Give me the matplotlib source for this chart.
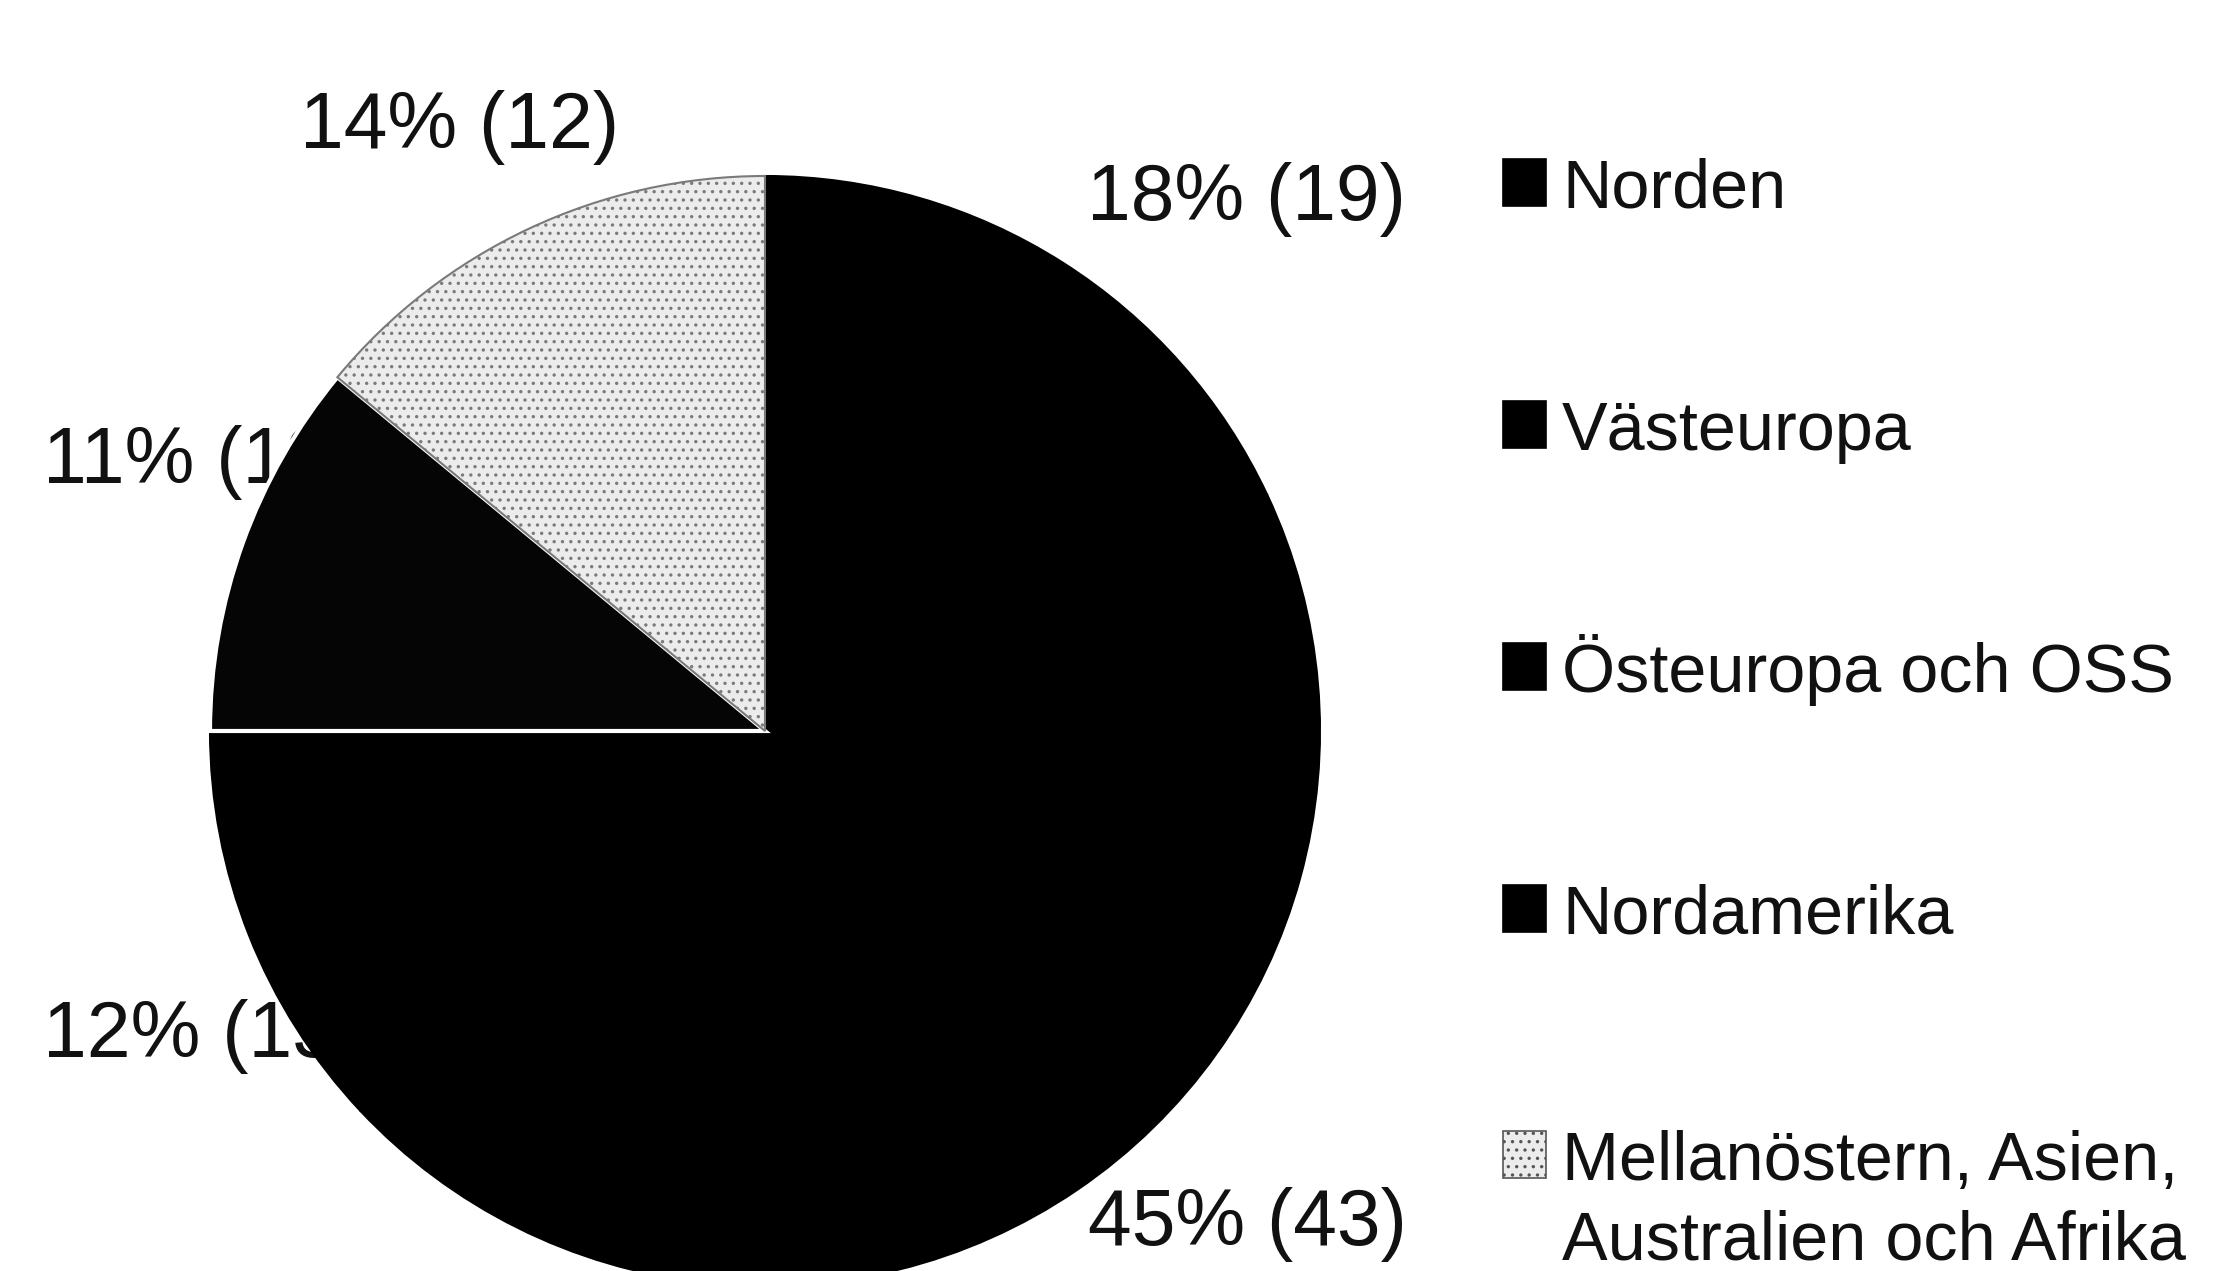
import matplotlib
matplotlib.use("Agg")
import matplotlib.pyplot as plt
from matplotlib import font_manager
from matplotlib.patches import Rectangle

# ---- data ----
categories = ["Norden", "Västeuropa", "Östeuropa och OSS", "Nordamerika",
              "Mellanöstern, Asien,\nAustralien och Afrika"]
shares = [18, 45, 12, 11, 14]          # percent
previous = [19, 43, 13, 13, 12]        # previous-year figures (in parentheses)
colors = ["#000000", "#000000", "#000000", "#050505", "#e9e9e9"]

# ---- fonts ----
installed = {f.name for f in font_manager.fontManager.ttflist}
if "Liberation Sans Narrow" in installed:
    FAMILY = ["Liberation Sans Narrow", "DejaVu Sans"]
    scale = 1.0
else:
    FAMILY = ["Liberation Sans", "DejaVu Sans"]
    scale = 0.82
plt.rcParams["font.family"] = FAMILY
plt.rcParams["hatch.linewidth"] = 1.2

W, H = 2218, 1271
fig = plt.figure(figsize=(W / 100, H / 100), dpi=100)
ax = fig.add_axes([0, 0, 1, 1])

def Y(y_img):
    return H - y_img

# ---- pie ----
cx, cy, R = 765, 731, 555
wedges, _ = ax.pie(shares, colors=colors, startangle=90, counterclock=False,
                   center=(cx, Y(cy)), radius=R,
                   wedgeprops=dict(linewidth=1.5, edgecolor="#000000", zorder=3))
# white separator on the Nordamerika wedge
wedges[3].set_edgecolor("white")
wedges[3].set_linewidth(3)
# speckled wedge
wedges[4].set_facecolor("#ececec")
wedges[4].set_edgecolor("#7a7a7a")
wedges[4].set_hatch("..")
wedges[4].set_linewidth(1.5)

# ---- percentage labels (drawn beneath the pie) ----
label_pos = [(1087, 220), (1088, 1245), (43, 1057), (43, 483), (300, 148)]
for (x, y), s, p in zip(label_pos, shares, previous):
    ax.text(x, Y(y), f"{s}% ({p})", fontsize=69 * scale, ha="left",
            va="baseline", color="#111111", zorder=1)

# ---- legend ----
leg_x_box, box_w, box_h = 1503, 43, 47
leg_x_txt = 1562
leg_base = [208, 450, 692, 934, 1180]
line_gap = 80
for i, (cat, base) in enumerate(zip(categories, leg_base)):
    fc = "#000000" if i < 4 else "#ececec"
    rect = Rectangle((leg_x_box, Y(base - 2)), box_w, box_h,
                     facecolor=fc, edgecolor="#000000" if i < 4 else "#555555",
                     linewidth=1.2, hatch=None if i < 4 else "..", zorder=4)
    ax.add_patch(rect)
    for j, line in enumerate(cat.split("\n")):
        ax.text(leg_x_txt, Y(base + j * line_gap), line, fontsize=60 * scale,
                ha="left", va="baseline", color="#111111", zorder=4)

ax.set_xlim(0, W)
ax.set_ylim(0, H)
ax.set_aspect("equal")
ax.axis("off")

fig.savefig("out.png", dpi=100, facecolor="white")
